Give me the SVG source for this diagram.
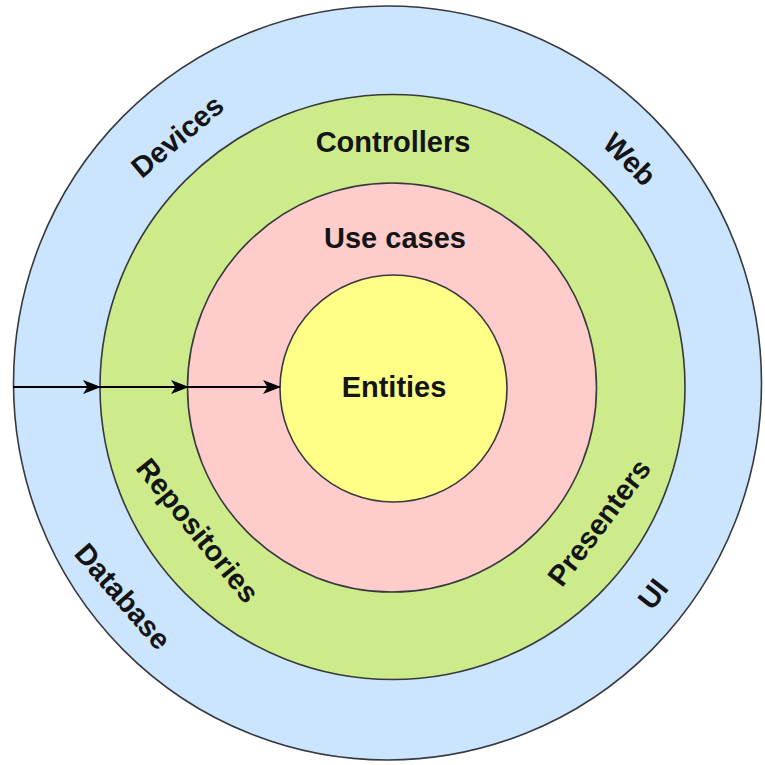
<svg xmlns="http://www.w3.org/2000/svg" width="765" height="765" viewBox="0 0 765 765">
  <style>
    .ring { stroke: #36393d; stroke-width: 1.6; }
    .lbl { font-family: "Liberation Sans", Arial, sans-serif; font-weight: bold; font-size: 29px; fill: #141414; text-anchor: middle; }
    .conn { stroke: #000; stroke-width: 1.8; fill: none; }
  </style>
  <defs>
    <marker id="arr" viewBox="0 0 18 14" refX="17" refY="7" markerWidth="18" markerHeight="14" markerUnits="userSpaceOnUse" orient="auto">
      <path d="M0,0 L18,7 L0,14 L4.5,7 Z" fill="#000"/>
    </marker>
  </defs>
  <rect width="765" height="765" fill="#ffffff"/>
  <g id="outer">
    <ellipse class="ring" cx="387.5" cy="383" rx="374" ry="377" fill="#cce5ff"/>
    <text class="lbl" transform="translate(178,137) rotate(-40)" y="9">Devices</text>
    <text class="lbl" transform="translate(629,160) rotate(45)" y="9">Web</text>
    <text class="lbl" transform="translate(122,597) rotate(49)" y="9">Database</text>
    <text class="lbl" transform="translate(653,594) rotate(-52)" y="10">UI</text>
  </g>
  <g id="interface">
    <circle class="ring" cx="392.5" cy="387" r="292.5" fill="#cdeb8b"/>
    <text class="lbl" x="393" y="152">Controllers</text>
    <text class="lbl" transform="translate(197,531) rotate(51)" y="9">Repositories</text>
    <text class="lbl" transform="translate(600,523) rotate(-53)" y="9">Presenters</text>
  </g>
  <g id="usecases">
    <circle class="ring" cx="392" cy="387.5" r="204.5" fill="#ffcccc"/>
    <text class="lbl" x="395" y="248">Use cases</text>
  </g>
  <g id="entities">
    <circle class="ring" cx="393.5" cy="388.5" r="113.5" fill="#ffff88"/>
    <text class="lbl" x="394" y="397">Entities</text>
  </g>
  <g id="connectors">
    <line class="conn" x1="13" y1="387" x2="100" y2="387" marker-end="url(#arr)"/>
    <line class="conn" x1="100" y1="387" x2="188" y2="387" marker-end="url(#arr)"/>
    <line class="conn" x1="188" y1="387" x2="280" y2="387" marker-end="url(#arr)"/>
  </g>
</svg>
